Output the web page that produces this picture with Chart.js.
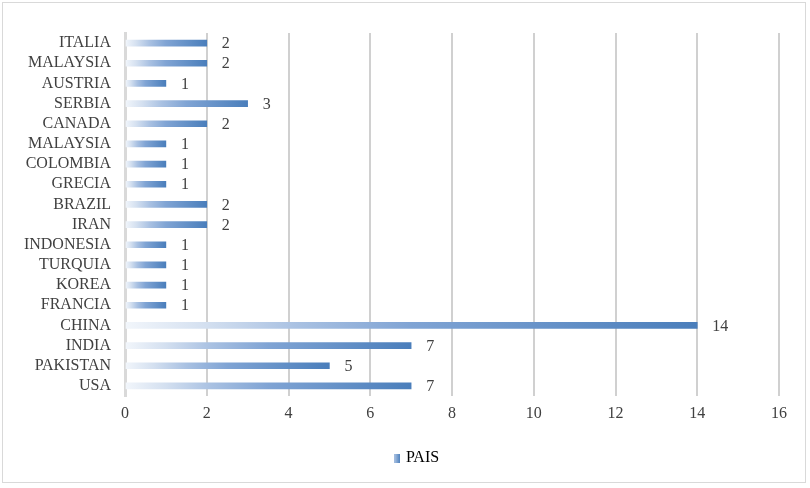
<!DOCTYPE html>
<html>
<head>
<meta charset="utf-8">
<script src="https://cdn.jsdelivr.net/npm/chart.js@4/dist/chart.umd.min.js"></script>
<style>
  html, body { margin: 0; padding: 0; background: #fff; }
  #frame { position: absolute; left: 2px; top: 2px; width: 804px; height: 481px; border: 1px solid #d9d9d9; box-sizing: border-box; }
  #wrap { position: absolute; left: 0; top: 0; width: 810px; height: 488px; }
</style>
</head>
<body>
<div id="frame"></div>
<div id="wrap"><canvas id="c" width="810" height="488"></canvas></div>
<script>
const categories = ['ITALIA', 'MALAYSIA', 'AUSTRIA', 'SERBIA', 'CANADA', 'MALAYSIA', 'COLOMBIA', 'GRECIA', 'BRAZIL', 'IRAN', 'INDONESIA', 'TURQUIA', 'KOREA', 'FRANCIA', 'CHINA', 'INDIA', 'PAKISTAN', 'USA'];
const paisValues = [2, 2, 1, 3, 2, 1, 1, 1, 2, 2, 1, 1, 1, 1, 14, 7, 5, 7];
const xTicks = [0, 2, 4, 6, 8, 10, 12, 14, 16];
const seriesName = 'PAIS';

const FONT = "'Liberation Serif', 'Times New Roman', serif";
const TEXT = '#404040';

function addStops(g) {
  g.addColorStop(0, '#f2f6fb');
  g.addColorStop(0.14, '#d4e0f0');
  g.addColorStop(0.3, '#a9c1e2');
  g.addColorStop(0.5, '#80a4d4');
  g.addColorStop(1, '#4a7ebb');
  return g;
}

function barGradient(ctx, x0, x1) {
  return addStops(ctx.createLinearGradient(x0, 0, x1, 0));
}

// small gradient swatch for the legend entry
const swatch = document.createElement('canvas');
swatch.width = 6; swatch.height = 9;
(function () {
  const sctx = swatch.getContext('2d');
  const g = sctx.createLinearGradient(0, 0, 6, 0);
  g.addColorStop(0, '#a9c1e2');
  g.addColorStop(1, '#4a7ebb');
  sctx.fillStyle = g;
  sctx.fillRect(0, 0, 6, 9);
})();

// value labels to the right of each bar end
const valueLabels = {
  id: 'valueLabels',
  afterDatasetsDraw(chart) {
    const ctx = chart.ctx;
    const meta = chart.getDatasetMeta(0);
    ctx.save();
    ctx.font = '16px ' + FONT;
    ctx.fillStyle = TEXT;
    ctx.textAlign = 'left';
    ctx.textBaseline = 'middle';
    meta.data.forEach((bar, i) => {
      ctx.fillText(String(paisValues[i]), bar.x + 15, bar.y + 1);
    });
    ctx.restore();
  }
};

// centre the legend under the plot area rather than the whole canvas
const legendPlacement = {
  id: 'legendPlacement',
  afterLayout(chart) {
    const lg = chart.legend;
    if (!lg) return;
    const dx = (chart.chartArea.left + chart.chartArea.right) / 2 - (lg.left + lg.right) / 2 - 34;
    lg.left += dx; lg.right += dx;
    lg.top += 10; lg.bottom += 10;
  }
};

new Chart(document.getElementById('c'), {
  type: 'bar',
  data: {
    labels: categories,
    datasets: [{
      label: seriesName,
      data: paisValues,
      barThickness: 6,
      backgroundColor(c) {
        const chart = c.chart;
        if (!chart.chartArea || c.type !== 'data') return '#80a4d4';
        const xs = chart.scales.x;
        return barGradient(chart.ctx, xs.getPixelForValue(0), xs.getPixelForValue(c.raw));
      },
      borderWidth: 0
    }]
  },
  options: {
    indexAxis: 'y',
    responsive: false,
    animation: false,
    layout: { padding: { left: 10, right: 31, top: 33, bottom: 22 } },
    scales: {
      x: {
        min: 0, max: 16,
        afterBuildTicks(s) { s.ticks = xTicks.map(v => ({ value: v })); },
        grid: { color: '#d0d0d0', lineWidth: 2, drawTicks: false },
        border: { display: false },
        ticks: { font: { family: FONT, size: 16 }, color: TEXT, padding: 8 },
        afterFit(s) { s.height = 30; }
      },
      y: {
        grid: { display: false, drawTicks: false },
        border: { display: true, color: '#d9d9d9', width: 3 },
        ticks: { font: { family: FONT, size: 16 }, color: TEXT, padding: 14, autoSkip: false },
        afterFit(s) { s.width = 115; }
      }
    },
    plugins: {
      legend: {
        position: 'bottom',
        labels: {
          font: { family: FONT, size: 16 },
          color: TEXT,
          usePointStyle: true,
          pointStyleWidth: 1,
          padding: 14,
          generateLabels() {
            return [{ text: seriesName, pointStyle: swatch, fillStyle: '#80a4d4', strokeStyle: 'rgba(0,0,0,0)', lineWidth: 0, datasetIndex: 0 }];
          }
        }
      },
      tooltip: { enabled: false }
    }
  },
  plugins: [valueLabels, legendPlacement]
});
</script>
</body>
</html>
